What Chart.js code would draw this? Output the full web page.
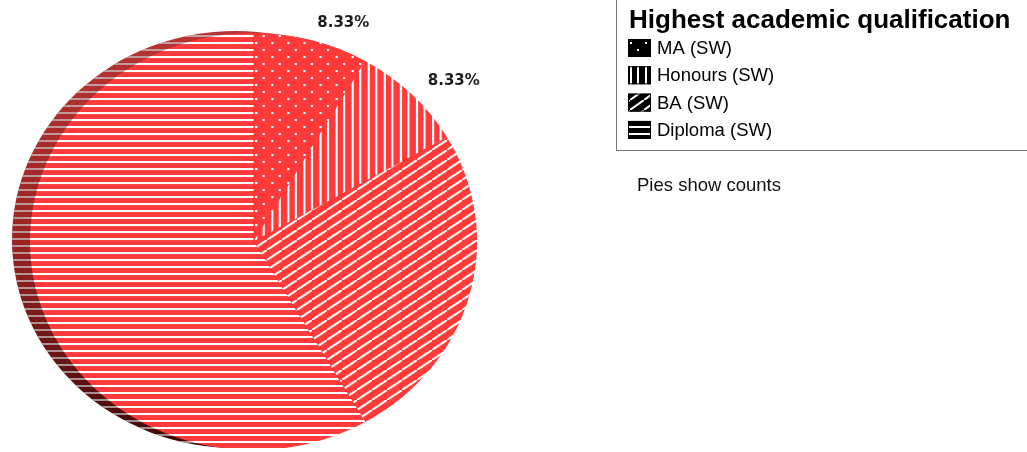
<!DOCTYPE html>
<html>
<head>
<meta charset="utf-8">
<script src="https://cdn.jsdelivr.net/npm/chart.js@4.4.1/dist/chart.umd.min.js"></script>
<style>
  html, body { margin: 0; padding: 0; background: #fff; }
  #wrap { width: 1027px; height: 452px; position: relative; }
</style>
</head>
<body>
<div id="wrap"><canvas id="myChart" width="1027" height="452"></canvas></div>
<script>
const categories = ['MA (SW)', 'Honours (SW)', 'BA (SW)', 'Diploma (SW)'];
const counts = [1, 1, 3, 7];
const patternKinds = ['dots', 'vlines', 'diag', 'hlines'];
const shownLabels = [true, true, false, false];
const legendTitle = 'Highest academic qualification';
const noteText = 'Pies show counts';

const red = '#ff3a3a';
const stretchX = 1.072; // pie in the original is a bit wider than tall

// little tiles for the hatch fills
function makePattern(kind, bg, fg) {
  const c = document.createElement('canvas');
  let w = 15, h = 14;
  if (kind === 'vlines') { w = 15; h = 4; }
  if (kind === 'hlines') { w = 4; h = 7; }
  if (kind === 'diag') { w = 14; h = 10; }
  c.width = w;
  c.height = h;
  const g = c.getContext('2d');
  g.fillStyle = bg;
  g.fillRect(0, 0, w, h);
  g.fillStyle = fg;
  g.strokeStyle = fg;
  if (kind === 'dots') {
    g.fillRect(0, 0, 2, 2);
    g.fillRect(7, 7, 2, 2);
  } else if (kind === 'vlines') {
    g.fillRect(0, 0, 2, h);
    g.fillRect(7, 0, 2, h);
  } else if (kind === 'hlines') {
    g.fillRect(0, 0, w, 2);
  } else if (kind === 'diag') {
    g.lineWidth = 2;
    [-1, 0, 1].forEach(k => {
      g.beginPath();
      g.moveTo(k * w, h - k * h);
      g.lineTo(w + k * w, -k * h);
      g.stroke();
    });
  }
  return g.createPattern(c, 'repeat');
}

const ctx = document.getElementById('myChart');
const total = counts.reduce((a, b) => a + b, 0);

const pieFills = patternKinds.map(k => makePattern(k, red, '#ffffff'));
const keyFills = patternKinds.map(k => makePattern(k, '#000000', '#ffffff'));

// stretch the pie sideways and put a dark copy behind it, offset left
const shadowPlugin = {
  id: 'shadow',
  beforeDatasetsDraw(chart) {
    const arc = chart.getDatasetMeta(0).data[0];
    if (!arc) return;
    const c = chart.ctx;
    const r = arc.outerRadius;
    c.save();
    c.translate(arc.x, arc.y);
    c.scale(stretchX, 1);
    c.translate(-arc.x, -arc.y);

    const cx = arc.x - 18 / stretchX;
    const cy = arc.y - 2;
    const grad = c.createLinearGradient(0, cy - r, 0, cy + r);
    grad.addColorStop(0, '#b83434');
    grad.addColorStop(0.5, '#9c2222');
    grad.addColorStop(1, '#3e0808');
    c.save();
    c.beginPath();
    c.arc(cx, cy, r, 0, Math.PI * 2);
    c.fillStyle = grad;
    c.fill();
    c.clip();
    c.fillStyle = makePattern('hlines', 'rgba(0,0,0,0)', 'rgba(200,200,200,0.7)');
    c.fillRect(cx - r, cy - r, r * 2, r * 2);
    c.restore();
  },
  afterDatasetsDraw(chart) {
    chart.ctx.restore();
  }
};

const labelPlugin = {
  id: 'sliceLabels',
  afterDatasetsDraw(chart) {
    const meta = chart.getDatasetMeta(0);
    const c = chart.ctx;
    c.save();
    c.font = 'bold 15px "DejaVu Sans"';
    c.fillStyle = '#1e1e1e';
    c.textAlign = 'left';
    c.textBaseline = 'middle';
    meta.data.forEach((arc, i) => {
      if (!shownLabels[i]) return;
      const mid = (arc.startAngle + arc.endAngle) / 2;
      const rx = arc.outerRadius + 38;
      const ry = arc.outerRadius + 18;
      const x = arc.x + Math.cos(mid) * rx;
      const y = arc.y + Math.sin(mid) * ry;
      const pct = (counts[i] / total * 100).toFixed(2) + '%';
      c.fillText(pct, x, y);
    });
    c.restore();
  }
};

const legendPlugin = {
  id: 'keyBox',
  afterDraw(chart) {
    const c = chart.ctx;
    c.save();
    c.strokeStyle = '#777';
    c.lineWidth = 1;
    c.strokeRect(616.5, -2, 500, 152.5);
    c.fillStyle = '#000';
    c.textBaseline = 'middle';
    c.textAlign = 'left';
    c.font = 'bold 26px "Liberation Sans", Arial, sans-serif';
    c.fillText(legendTitle, 629, 21);
    c.font = '18.5px "Liberation Sans", Arial, sans-serif';
    categories.forEach((name, i) => {
      const y = 48 + i * 27.3;
      c.fillStyle = keyFills[i];
      c.fillRect(628, y - 9, 23, 18);
      c.strokeStyle = '#000';
      c.strokeRect(628.5, y - 8.5, 22, 17);
      c.fillStyle = '#000';
      c.fillText(name, 657, y + 1);
    });
    c.fillStyle = '#111';
    c.font = '18.5px "Liberation Sans", Arial, sans-serif';
    c.fillText(noteText, 637, 186);
    c.restore();
  }
};

const chartData = {
  labels: categories,
  datasets: [
    {
      data: counts,
      backgroundColor: pieFills,
      borderWidth: 0,
      hoverOffset: 0
    }
  ]
};

const config = {
  type: 'pie',
  data: chartData,
  options: {
    responsive: false,
    animation: false,
    layout: {
      padding: { left: 45, right: 565, top: 33, bottom: 2 }
    },
    plugins: {
      legend: { display: false },
      tooltip: { enabled: false }
    }
  },
  plugins: [shadowPlugin, labelPlugin, legendPlugin]
};

if (ctx) {
  const myChart = new Chart(ctx, config);
}
</script>
</body>
</html>
